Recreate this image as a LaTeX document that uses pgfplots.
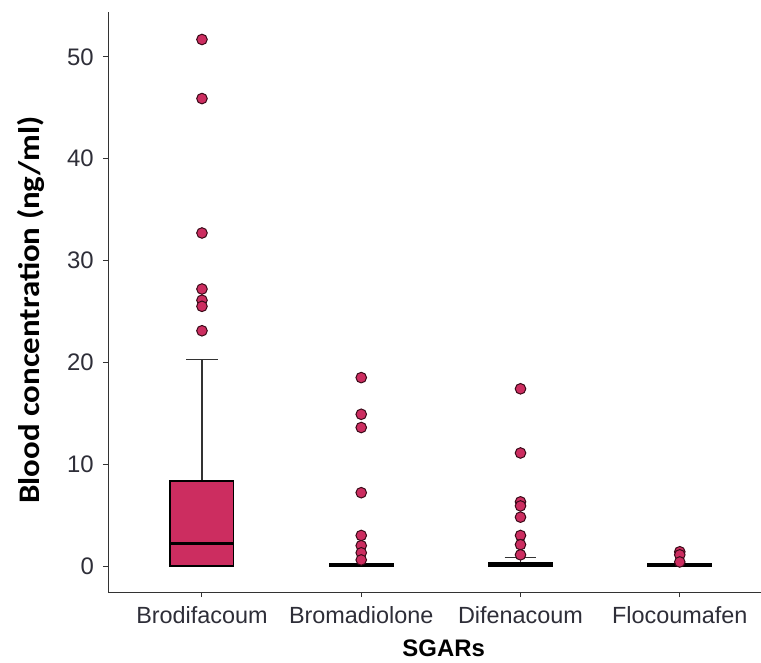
\documentclass[border=0pt]{standalone}
\usepackage{fontspec}
\setmainfont{Liberation Sans}
\newfontfamily\carlito{Carlito}
\usepackage{pgfplots}
\usepgfplotslibrary{statistics}
\pgfplotsset{compat=1.18}
\definecolor{crim}{HTML}{CC2D60}
\definecolor{ptedge}{HTML}{3A0A18}
\definecolor{axgray}{HTML}{333333}
\definecolor{ticktext}{HTML}{2E2E38}
\begin{document}
\begin{tikzpicture}
\useasboundingbox (0,0) rectangle (761bp,663bp);
\begin{axis}[
  at={(108bp,71bp)}, anchor=south west,
  scale only axis, width=653bp, height=580bp,
  xmin=0.41, xmax=4.51, ymin=-2.55, ymax=54.4,
  axis x line*=bottom, axis y line*=left,
  axis line style={axgray, line width=1bp, -},
  xtick={1,2,3,4},
  xticklabels={Brodifacoum,Bromadiolone,Difenacoum,Flocoumafen},
  ytick={0,10,20,30,40,50},
  tick align=outside, major tick length=5bp,
  tick style={axgray, line width=1bp},
  x tick label style={font=\fontsize{23.5}{24}\selectfont, text=ticktext, inner sep=2bp, yshift=-7bp},
  y tick label style={font=\fontsize{24}{24}\selectfont, text=ticktext, inner sep=2bp, xshift=-7bp},
  /pgf/number format/assume math mode=true,
  xlabel={\bfseries SGARs},
  xlabel style={font=\fontsize{24}{24}\selectfont, at={(axis description cs:0.514,-0.0966)}, anchor=center},
  ylabel={\carlito\bfseries\scalebox{1.1}[1]{Blood concentration (ng/ml)}},
  ylabel style={font=\fontsize{30}{30}\selectfont, at={(axis description cs:-0.118,0.486)}, anchor=center, rotate=0},
  clip=false,
  boxplot/draw direction=y,
  boxplot/box extend=0.4,
  boxplot/whisker extend=0.2,
  boxplot/every median/.style={line width=3.5bp},
  boxplot/every box/.style={draw=black, line width=1.3bp, fill=crim},
  boxplot/every whisker/.style={draw=black!80, line width=1.2bp},
]
\addplot[boxplot prepared={draw position=1, lower whisker=0, lower quartile=0, median=2.2, upper quartile=8.35, upper whisker=20.3}, draw=black] coordinates {};
\addplot[boxplot prepared={draw position=2, lower whisker=0, lower quartile=0, median=0.08, upper quartile=0.2, upper whisker=0.2}, draw=black] coordinates {};
\addplot[boxplot prepared={draw position=3, lower whisker=0, lower quartile=0, median=0.12, upper quartile=0.3, upper whisker=0.85}, draw=black] coordinates {};
\addplot[boxplot prepared={draw position=4, lower whisker=0, lower quartile=0, median=0.08, upper quartile=0.2, upper whisker=0.2}, draw=black] coordinates {};

\addplot[only marks, mark=*, mark size=5.3bp, mark options={fill=crim, draw=ptedge, line width=1bp}] coordinates {
 (1,51.7) (1,45.9) (1,32.7) (1,27.2) (1,26.1) (1,25.5) (1,23.1)
 (2,18.5) (2,14.9) (2,13.6) (2,7.2) (2,3.0) (2,2.0) (2,1.3) (2,0.6)
 (3,17.4) (3,11.1) (3,6.3) (3,5.9) (3,4.8) (3,3.0) (3,2.1) (3,1.1)
 (4,1.4) (4,1.1) (4,0.4)
};
\end{axis}
\end{tikzpicture}
\end{document}
